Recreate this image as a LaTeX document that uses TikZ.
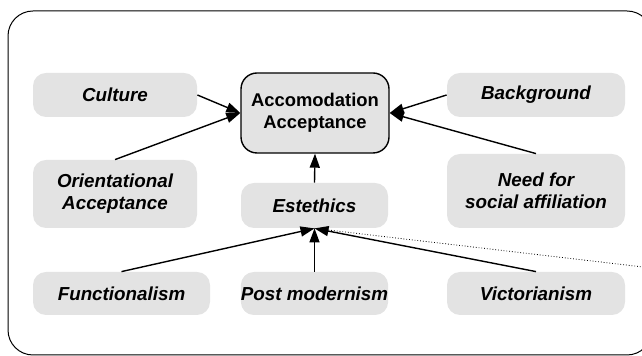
\documentclass[tikz,border=0pt]{standalone}
\usepackage{fontspec}
\setmainfont{Liberation Sans}
\usetikzlibrary{arrows.meta}
\definecolor{boxgray}{RGB}{227,227,227}
\begin{document}
\begin{tikzpicture}[x=0.5pt,y=-0.5pt,
  factor/.style={fill=boxgray, rounded corners=6.5pt, inner sep=0pt, align=center,
    font=\fontsize{9.4}{11}\selectfont\bfseries\itshape},
  accbox/.style={draw, fill=boxgray, line width=0.7pt, rounded corners=8pt, inner sep=0pt,
    align=center, font=\fontsize{9.2}{11}\selectfont\bfseries},
  link/.style={line width=0.7pt, -{Triangle[length=7pt,width=5pt]}},
  trace/.style={densely dotted, line width=0.4pt}]
\clip (0,0) rectangle (642,356);
\draw[line width=0.5pt, rounded corners=12.5pt] (8,11) rectangle (652,355);
\node[accbox, minimum width=74pt, minimum height=40pt] (acc) at (315,113) {Accomodation\\Acceptance};
\node[factor, minimum width=82pt, minimum height=22pt] (cult) at (115,95) {Culture};
\node[factor, minimum width=82pt, minimum height=34pt] (orient) at (115,194) {Orientational\\Acceptance};
\node[factor, minimum width=89pt, minimum height=22pt] (back) at (536,95) {Background};
\node[factor, minimum width=89pt, minimum height=37pt] (need) at (536,191) {Need for\\social affiliation};
\node[factor, minimum width=73.5pt, minimum height=22.5pt] (est) at (314.5,205.5) {Estethics};
\node[factor, minimum width=88.5pt, minimum height=21.5pt] (func) at (121.5,293.5) {Functionalism};
\node[factor, minimum width=73.5pt, minimum height=21.5pt] (post) at (314.5,293.5) {Post modernism};
\node[factor, minimum width=89pt, minimum height=21.5pt] (vict) at (536,293.5) {Victorianism};
\coordinate (offpage) at (660,269);
\draw[trace] (est.south) -- (offpage);
\draw[link] (cult.east) -- (acc.west);
\draw[link] (orient.north) -- (acc.west);
\draw[link] (back.west) -- (acc.east);
\draw[link] (need.north) -- (acc.east);
\draw[link] (est.north) -- (acc.south);
\draw[link] (func.north) -- (est.south);
\draw[link] (post.north) -- (est.south);
\draw[link] (vict.north) -- (est.south);
\end{tikzpicture}
\end{document}
